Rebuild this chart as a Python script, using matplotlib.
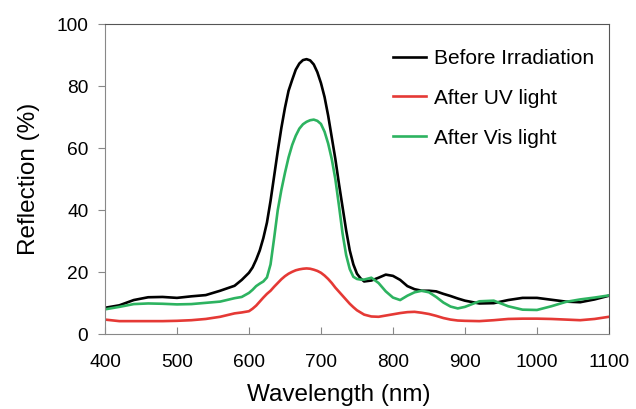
import matplotlib
matplotlib.use("Agg")
import matplotlib.pyplot as plt

plt.rcParams["font.family"] = ["Liberation Sans", "DejaVu Sans"]

# wavelength grid (nm), finer around the peak
wavelength = [400, 420, 440, 460, 480, 500, 520, 540, 560, 580, 590, 600, 605, 610, 615,
              620, 625, 630, 635, 640, 645, 650, 655, 660, 665, 670, 675, 680, 685, 690,
              695, 700, 705, 710, 715, 720, 725, 730, 735, 740, 745, 750, 755, 760,
              770, 780, 790, 800, 810, 820, 830, 840, 850, 860, 870, 880, 890, 900,
              920, 940, 960, 980, 1000, 1020, 1040, 1060, 1080, 1100]

before_irradiation = [8.5, 9.3, 11.0, 11.9, 12.0, 11.7, 12.2, 12.6, 14.0, 15.6, 17.5, 19.8,
                      21.5, 24.0, 27.0, 31.0, 36.0, 43.0, 51.0, 59.0, 66.5, 73.0, 78.5,
                      82.0, 85.3, 87.3, 88.4, 88.7, 88.3, 87.0, 84.5, 81.0, 76.5, 70.5,
                      63.5, 56.5, 48.5, 41.0, 33.5, 27.0, 22.5, 19.5, 18.0, 17.0,
                      17.3, 18.2, 19.2, 18.8, 17.5, 15.5, 14.5, 14.0, 14.0, 13.8, 13.0,
                      12.3, 11.5, 10.8, 9.9, 10.0, 11.0, 11.7, 11.7, 11.1, 10.5, 10.3,
                      11.2, 12.4]

after_uv = [4.7, 4.2, 4.2, 4.2, 4.2, 4.3, 4.5, 4.9, 5.6, 6.7, 7.0, 7.4, 8.2, 9.2, 10.5,
            11.8, 13.0, 14.0, 15.3, 16.5, 17.7, 18.7, 19.5, 20.1, 20.6, 20.9, 21.1, 21.2,
            21.1, 20.8, 20.4, 19.8, 18.9, 17.8, 16.5, 15.0, 13.7, 12.4, 11.1, 9.8, 8.7,
            7.7, 7.0, 6.3, 5.7, 5.6, 6.0, 6.4, 6.8, 7.1, 7.2, 6.9, 6.5, 5.9, 5.2, 4.7,
            4.4, 4.3, 4.2, 4.5, 4.9, 5.0, 5.0, 4.9, 4.7, 4.5, 4.9, 5.6]

after_vis = [8.0, 8.8, 9.7, 9.9, 9.8, 9.6, 9.7, 10.1, 10.5, 11.6, 12.0, 13.3, 14.3, 15.5,
             16.3, 17.0, 18.3, 22.5, 31.0, 40.0, 46.5, 52.0, 57.0, 61.0, 64.0, 66.3, 67.7,
             68.5, 69.0, 69.2, 68.8, 67.8, 65.3, 61.5, 56.5, 50.0, 41.5, 32.5, 25.5, 21.0,
             18.5, 17.8, 17.6, 17.6, 18.2, 16.5, 13.8, 11.8, 11.0, 12.4, 13.5, 14.0, 13.5,
             12.0, 10.2, 8.9, 8.3, 8.8, 10.6, 10.8, 9.0, 7.9, 7.8, 9.0, 10.4, 11.2,
             11.8, 12.5]

fig = plt.figure(figsize=(6.36, 4.09), dpi=100)
ax = fig.add_axes([0.165, 0.183, 0.7925, 0.758])

ax.plot(wavelength, before_irradiation, color="black", lw=1.9, label="Before Irradiation")
ax.plot(wavelength, after_uv, color="#e53935", lw=1.9, label="After UV light")
ax.plot(wavelength, after_vis, color="#2db360", lw=1.9, label="After Vis light")

ax.set_xlim(400, 1100)
ax.set_ylim(0, 100)
ax.set_xticks(range(400, 1101, 100))
ax.set_yticks(range(0, 101, 20))
ax.tick_params(axis="x", direction="in", length=5, color="#888888", labelsize=13.8, pad=14)
ax.tick_params(axis="y", direction="out", length=5, color="#888888", labelsize=13.8, pad=7)
for side in ("left", "bottom"):
    ax.spines[side].set_color("#888888")
for side in ("top", "right"):
    ax.spines[side].set_color("#555555")

ax.set_xlabel("Wavelength (nm)", fontsize=17.5, labelpad=10)
ax.xaxis.label.set_x(0.464)  # label sits a bit left of centre in the original
ax.set_ylabel("Reflection (%)", fontsize=17.5, labelpad=12)

ax.legend(loc="upper left", bbox_to_anchor=(0.571, 0.92), frameon=False,
          fontsize=15, handlelength=1.62, handletextpad=0.36, labelspacing=1.0,
          borderpad=0, borderaxespad=0)

fig.savefig("out.png", dpi=100)
